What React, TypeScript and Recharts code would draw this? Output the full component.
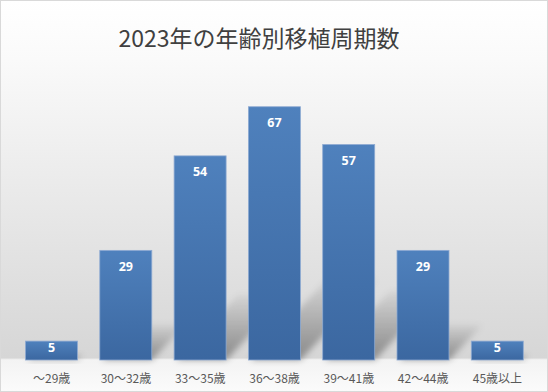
import React from 'react';
import { BarChart, Bar, XAxis, YAxis, LabelList } from 'recharts';

const categories = ['～29歳', '30～32歳', '33～35歳', '36～38歳', '39～41歳', '42～44歳', '45歳以上'];
const cycles = [5, 29, 54, 67, 57, 29, 5];

const data = categories.map((name, i) => ({ name, value: cycles[i] }));

const JP = '"Noto Sans CJK JP", "Noto Sans", sans-serif';

const ShadowBar = (props: any) => {
  const { x, y, width, height } = props;
  const bottom = y + height;
  const s = height * 0.32;
  const dx = s * 0.95;
  return (
    <g>
      <polygon
        points={`${x + 2},${bottom} ${x + width},${bottom} ${x + width + dx},${bottom - s} ${x + dx + 2},${bottom - s}`}
        fill="url(#shadowFade)"
        filter="url(#shadowBlur)"
      />
      <rect x={x} y={y} width={width} height={height} fill="url(#barFill)" stroke="#8eaad2" strokeWidth={0.8} />
    </g>
  );
};

const ValueLabel = (props: any) => {
  const { x, y, width, height, value } = props;
  const cy = height > 30 ? y + 16 : y + height / 2 - 3;
  return (
    <text
      x={x + width / 2}
      y={cy}
      textAnchor="middle"
      dominantBaseline="central"
      fill="#ffffff"
      fontSize={12.5}
      fontWeight="bold"
      fontFamily='"Noto Sans", sans-serif'
    >
      {value}
    </text>
  );
};

const AgeTick = (props: any) => {
  const { x, payload } = props;
  return (
    <text x={x} y={377} textAnchor="middle" dominantBaseline="central" fill="#595959" fontSize={12} fontFamily={JP}>
      {payload.value}
    </text>
  );
};

export default function App() {
  return (
    <div
      style={{
        position: 'relative',
        width: 548,
        height: 392,
        boxSizing: 'border-box',
        border: '1px solid #d9d9d9',
        background:
          'linear-gradient(to bottom, #ffffff 0%, #fafafa 15%, #eeeeee 40%, #e0e0e0 70%, #d6d6d6 91.5%, #f3f3f3 92%, #fbfbfb 100%)',
        overflow: 'hidden',
      }}
    >
      <style>{'body{margin:0}'}</style>
      <div
        style={{
          position: 'absolute',
          left: 0,
          top: 19,
          width: 516,
          textAlign: 'center',
          fontFamily: JP,
          fontSize: 23,
          color: '#404040',
          lineHeight: '34px',
        }}
      >
        2023年の年齢別移植周期数
      </div>
      <div style={{ position: 'absolute', left: -1, top: -1 }}>
        <BarChart
          width={548}
          height={392}
          data={data}
          margin={{ top: 95.4, right: 13.4, bottom: 0, left: 14.5 }}
          barSize={52}
        >
          <defs>
            <linearGradient id="barFill" x1="0" y1="0" x2="0" y2="1">
              <stop offset="0%" stopColor="#4f81bd" />
              <stop offset="100%" stopColor="#3b67a0" />
            </linearGradient>
            <linearGradient id="shadowFade" x1="0" y1="1" x2="0" y2="0">
              <stop offset="0%" stopColor="#000" stopOpacity={0.36} />
              <stop offset="100%" stopColor="#000" stopOpacity={0.04} />
            </linearGradient>
            <filter id="shadowBlur" x="-50%" y="-50%" width="200%" height="200%">
              <feGaussianBlur stdDeviation="3" />
            </filter>
          </defs>
          <XAxis
            dataKey="name"
            axisLine={false}
            tickLine={false}
            height={32}
            tick={<AgeTick />}
            interval={0}
          />
          <YAxis hide domain={[0, 70]} />
          <Bar dataKey="value" shape={<ShadowBar />} isAnimationActive={false}>
            <LabelList dataKey="value" content={<ValueLabel />} />
          </Bar>
        </BarChart>
      </div>
    </div>
  );
}
